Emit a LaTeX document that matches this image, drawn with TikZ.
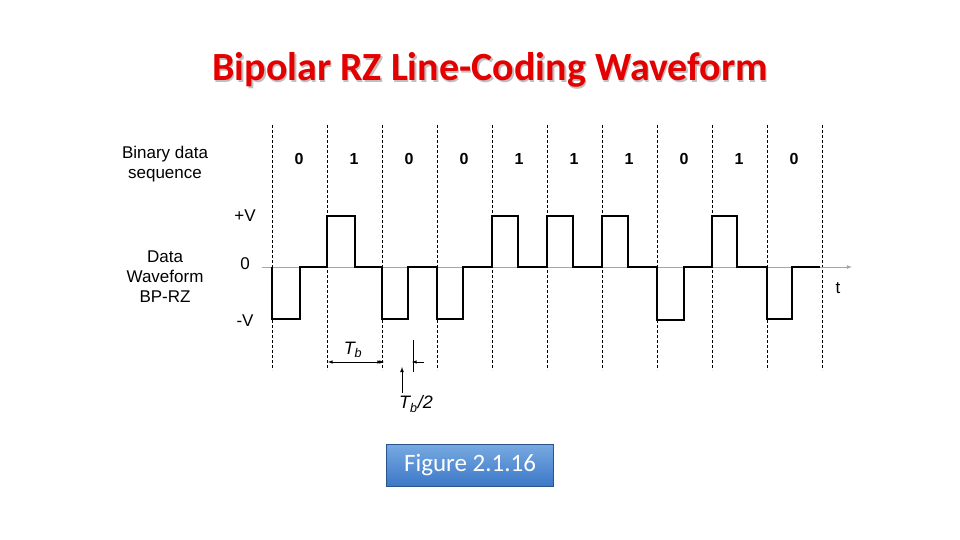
\documentclass[tikz,border=0pt]{standalone}
\usepackage{fontspec}
\setmainfont{Carlito}
\newfontfamily\lab{Liberation Sans}
\definecolor{figtop}{RGB}{120,170,225}
\definecolor{figbot}{RGB}{60,120,200}
\begin{document}
\begin{tikzpicture}[x=1pt,y=-1pt,
  grid/.style={densely dashed,black,line width=0.7pt},
  wave/.style={line width=1.8pt,black,line join=miter},
  lbl/.style={font=\lab\fontsize{17}{20}\selectfont,align=center},
  bit/.style={font=\lab\bfseries\fontsize{16}{19}\selectfont},
  tlab/.style={font=\lab\itshape\fontsize{18}{20}\selectfont}]
\useasboundingbox (0,0) rectangle (960,540);
\node[font=\bfseries\fontsize{40}{44}\selectfont,text=gray!50] at (491.5,71.5) {Bipolar RZ Line-Coding Waveform};
\node[font=\bfseries\fontsize{40}{44}\selectfont,text=red!90!black] (title) at (490,70) {Bipolar RZ Line-Coding Waveform};
\foreach \i in {0,...,10}{\draw[grid] (272+55*\i,125) -- (272+55*\i,370);}
\foreach \b [count=\i from 0] in {0,1,0,0,1,1,1,0,1,0}{\node[bit] (b\i) at (299+55*\i,159) {\b};}
\node[lbl] (bds) at (165,164) {Binary data\\sequence};
\node[lbl] (dw) at (165,277) {Data\\Waveform\\BP-RZ};
\node[lbl] (pv) at (245,216) {+V};
\node[lbl] (zv) at (245,264) {0};
\node[lbl] (mv) at (245,321) {-V};
\node[lbl] (t) at (838,288) {t};
\coordinate (a0) at (262,267); \coordinate (a1) at (852,267);
\draw[gray!70,line width=0.8pt,-latex] (a0) -- (a1);
\draw[wave] (272,267) -- (272,319) -- (300,319) -- (300,267) -- (327,267) -- (327,216) -- (355,216) -- (355,267) -- (382,267)
 -- (382,319) -- (408,319) -- (408,267) -- (437,267) -- (437,319) -- (463,319) -- (463,267) -- (492,267)
 -- (492,216) -- (518,216) -- (518,267) -- (547,267) -- (547,216) -- (573,216) -- (573,267) -- (602,267)
 -- (602,216) -- (628,216) -- (628,267) -- (657,267) -- (657,320) -- (684,320) -- (684,267) -- (712,267)
 -- (712,216) -- (737,216) -- (737,267) -- (767,267) -- (767,319) -- (792,319) -- (792,267) -- (820,267);
\coordinate (tb1) at (328,362); \coordinate (tb2) at (382,362);
\draw[line width=0.6pt,{latex}-{latex}] (tb1) -- (tb2);
\node[tlab] (tb) at (353,350) {T\textsubscript{b}};
\coordinate (h1) at (384,362); \coordinate (h2) at (412,362);
\draw[line width=0.6pt,-latex] (376,362) -- (h1);
\draw[line width=0.6pt,-latex] (424,362) -- (h2);
\draw[line width=0.6pt] (413,340) -- (413,372);
\node[tlab] (tbh) at (416,404) {T\textsubscript{b}/2};
\coordinate (ar) at (402,367);
\draw[line width=0.8pt,-latex] (402,393) -- (ar);
\node[draw=figbot!70!black,line width=0.5pt,top color=figtop,bottom color=figbot,text=white,minimum width=167pt,minimum height=42pt,font=\fontsize{25}{28}\selectfont] (fig) at (470,465) {Figure 2.1.16};
\end{tikzpicture}
\end{document}
